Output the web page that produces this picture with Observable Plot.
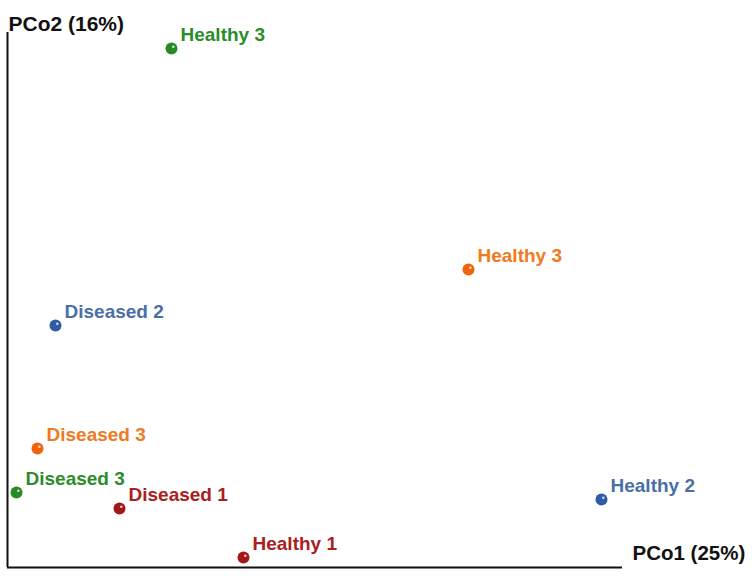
<!DOCTYPE html>
<html>
<head>
<meta charset="utf-8">
<script src="https://cdn.jsdelivr.net/npm/d3@7"></script>
<script src="https://cdn.jsdelivr.net/npm/@observablehq/plot@0.6"></script>
<style>
  body { margin: 0; background: #fff; }
  #chart svg { display: block; }
</style>
</head>
<body>
<div id="chart"></div>
<script>
const labels = ["Healthy 3", "Healthy 3", "Diseased 2", "Diseased 3", "Diseased 3", "Diseased 1", "Healthy 1", "Healthy 2"];
const groups = ["green", "orange", "blue", "orange", "green", "red", "red", "blue"];
const pco1 = [1.64, 4.61, 0.48, 0.30, 0.09, 1.12, 2.36, 5.94];
const pco2 = [5.19, 2.98, 2.42, 1.19, 0.75, 0.59, 0.10, 0.68];
const axisLabels = {x: "PCo1 (25%)", y: "PCo2 (16%)"};
const groupNames = ["green", "orange", "blue", "red"];
const pointColors = ["#268a26", "#f0620c", "#2f5ca6", "#a31616"];
const textColors = ["#2c8c2c", "#ef7a22", "#4a6fa8", "#a82020"];

const data = labels.map((label, i) => ({label, group: groups[i], x: pco1[i], y: pco2[i]}));
const pc = Object.fromEntries(groupNames.map((g, i) => [g, pointColors[i]]));
const tc = Object.fromEntries(groupNames.map((g, i) => [g, textColors[i]]));

const chart = Plot.plot({
  width: 756,
  height: 576,
  marginLeft: 7,
  marginRight: 134,
  marginTop: 32,
  marginBottom: 9,
  x: {domain: [0, 6.15], axis: null},
  y: {domain: [0, 5.35], axis: null},
  style: {fontFamily: "Liberation Sans, Arial, sans-serif", background: "#fff"},
  marks: [
    Plot.ruleX([0], {stroke: "#111", strokeWidth: 2}),
    Plot.ruleY([0], {stroke: "#111", strokeWidth: 2}),
    Plot.dot(data, {x: "x", y: "y", r: 6, fill: d => pc[d.group], stroke: "none"}),
    Plot.dot(data, {x: "x", y: "y", r: 1.3, fill: "#fff", fillOpacity: 0.8, dx: 1.8, dy: -1.8, stroke: "none"}),
    Plot.text(data, {x: "x", y: "y", text: "label", fill: d => tc[d.group], fontSize: 19, fontWeight: "bold", textAnchor: "start", dx: 9, dy: -14}),
    Plot.text([axisLabels.y], {frameAnchor: "top-left", text: d => d, fontSize: 21, fontWeight: "bold", fill: "#111", textAnchor: "start", dx: 1, dy: -16}),
    Plot.text([axisLabels.x], {frameAnchor: "bottom-right", text: d => d, fontSize: 20.5, fontWeight: "bold", fill: "#111", textAnchor: "start", dx: 10, dy: -8})
  ]
});
document.getElementById("chart").appendChild(chart);
</script>
</body>
</html>
